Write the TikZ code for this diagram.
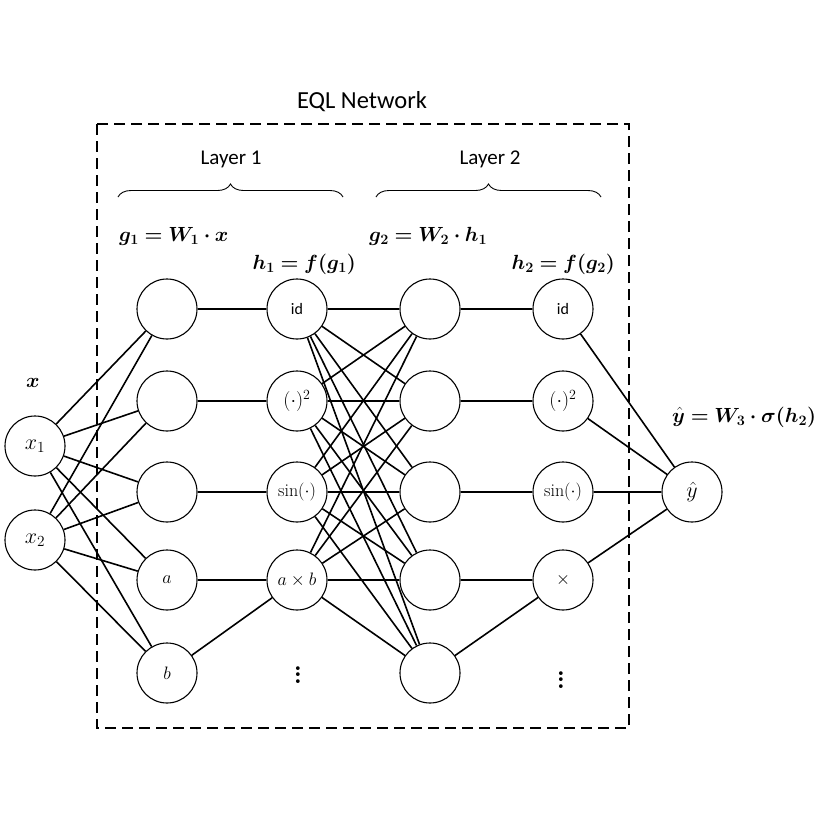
\RequirePackage{fix-cm}
\documentclass[tikz,border=0pt]{standalone}
\usepackage{amsmath,bm}
\usepackage{fontspec}
\newfontfamily\calibri{Carlito}
\usetikzlibrary{decorations.pathreplacing}
\newcommand\myvdots{\vbox{\baselineskip6.5pt\lineskiplimit0pt\hbox{.}\hbox{.}\hbox{.}}}
\begin{document}
\begin{tikzpicture}[x=1pt,y=-1pt,
  neuron/.style={circle,draw,line width=1.1pt,minimum size=60pt,inner sep=0pt,fill=white,font=\fontsize{18}{20}\selectfont},
  plain/.style={inner sep=0pt,font=\fontsize{26}{28}\selectfont\bfseries},
  conn/.style={line width=1.6pt},
  lbl/.style={inner sep=0pt,font=\fontsize{20.5}{23}\selectfont},
  sans/.style={inner sep=0pt,font=\calibri\fontsize{21}{24}\selectfont},
  br/.style={decorate,decoration={brace,amplitude=13pt},line width=0.9pt}
]
\useasboundingbox (0,0) rectangle (820,820);

% dashed box
\draw[line width=2.6pt,dash pattern=on 11pt off 6pt] (97,124) rectangle (629,728);

% nodes
\node[neuron] (x1) at (35,446) {\fontsize{22}{24}\selectfont$x_1$};
\node[neuron] (x2) at (35,540) {\fontsize{22}{24}\selectfont$x_2$};

\node[neuron] (ga) at (167,309) {};
\node[neuron] (gb) at (167,401) {};
\node[neuron] (gc) at (167,492) {};
\node[neuron] (gd) at (167,580) {$a$};
\node[neuron] (ge) at (167,673) {$b$};

\node[neuron] (ha) at (297,309) {\calibri\fontsize{16}{18}\selectfont id};
\node[neuron] (hb) at (297,401) {\fontsize{20}{22}\selectfont$(\cdot)^2$};
\node[neuron] (hc) at (297,492) {$\sin(\cdot)$};
\node[neuron] (hd) at (297,580) {$a\times b$};
\node[plain] (he) at (298,675) {\myvdots};

\node[neuron] (ka) at (430,309) {};
\node[neuron] (kb) at (430,401) {};
\node[neuron] (kc) at (430,492) {};
\node[neuron] (kd) at (430,580) {};
\node[neuron] (ke) at (430,673) {};

\node[neuron] (ma) at (563,309) {\calibri\fontsize{16}{18}\selectfont id};
\node[neuron] (mb) at (563,401) {\fontsize{20}{22}\selectfont$(\cdot)^2$};
\node[neuron] (mc) at (563,492) {$\sin(\cdot)$};
\node[neuron] (md) at (563,580) {$\times$};
\node[plain] (me) at (561,680) {\myvdots};

\node[neuron] (y) at (692,492) {\fontsize{22}{24}\selectfont$\hat{y}$};

% connections input -> g1
\foreach \s in {x1,x2}
  \foreach \t in {ga,gb,gc,gd,ge}
    \draw[conn] (\s) -- (\t);
% g1 -> h1
\draw[conn] (ga) -- (ha);
\draw[conn] (gb) -- (hb);
\draw[conn] (gc) -- (hc);
\draw[conn] (gd) -- (hd);
\draw[conn] (ge) -- (hd);
% h1 -> g2
\foreach \s in {ha,hb,hc,hd}
  \foreach \t in {ka,kb,kc,kd,ke}
    \draw[conn] (\s) -- (\t);
% g2 -> h2
\draw[conn] (ka) -- (ma);
\draw[conn] (kb) -- (mb);
\draw[conn] (kc) -- (mc);
\draw[conn] (kd) -- (md);
\draw[conn] (ke) -- (md);
% h2 -> y
\foreach \s in {ma,mb,mc,md}
  \draw[conn] (\s) -- (y);

% labels
\node[inner sep=0pt,font=\calibri\fontsize{24.5}{28}\selectfont] (title) at (362,102) {EQL Network};
\node[sans] (l1) at (231,159) {Layer 1};
\node[sans] (l2) at (490,159) {Layer 2};
\draw[br] (118,197) -- (343,197);
\draw[br] (376,197) -- (601,197);

\node[lbl,anchor=west] (f1) at (119,236) {$\bm{g_1 = W_1 \cdot x}$};
\node[lbl,anchor=east] (f2) at (356,264) {$\bm{h_1 = f(g_1)}$};
\node[lbl,anchor=west] (f3) at (369,236) {$\bm{g_2 = W_2 \cdot h_1}$};
\node[lbl,anchor=east] (f4) at (615,264) {$\bm{h_2 = f(g_2)}$};
\node[lbl,anchor=west] (f5) at (672,417) {$\bm{\hat{y} = W_3 \cdot \sigma(h_2)}$};
\node[lbl] (fx) at (33,383) {$\bm{x}$};
\end{tikzpicture}
\end{document}
